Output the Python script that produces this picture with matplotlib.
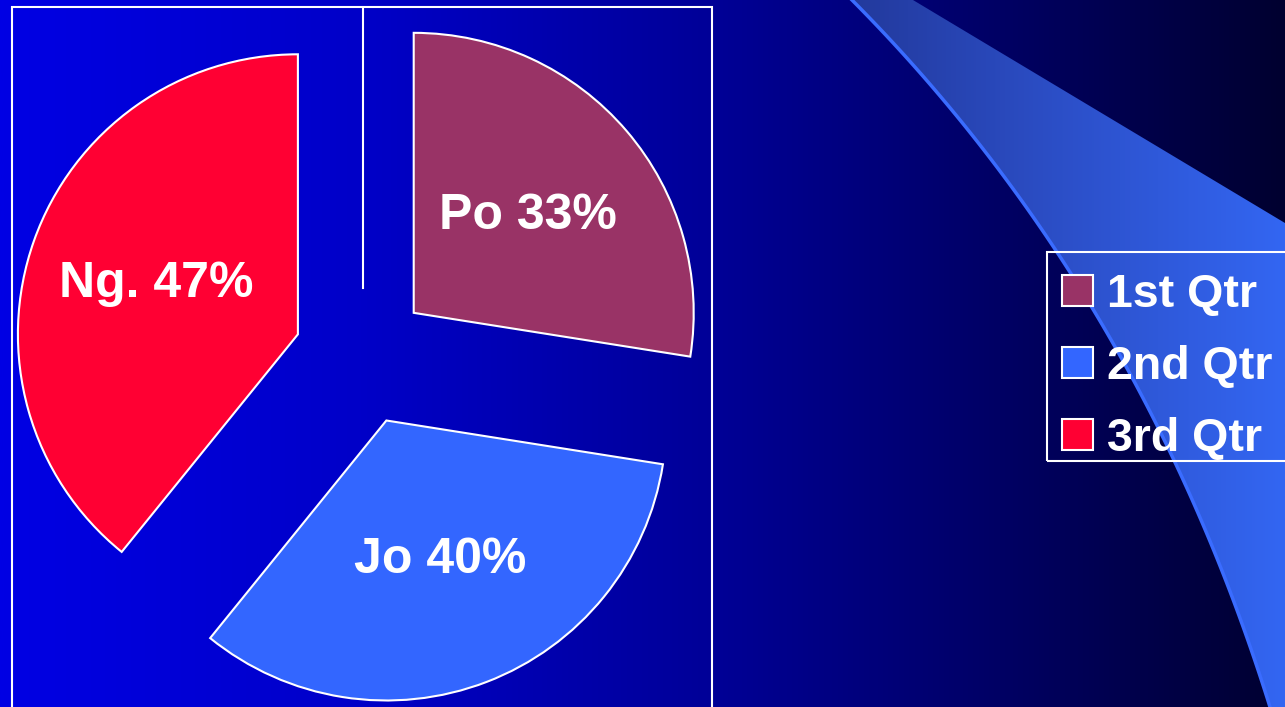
import numpy as np
import matplotlib
matplotlib.use("Agg")
import matplotlib.pyplot as plt
from matplotlib.colors import LinearSegmentedColormap
from matplotlib.patches import Polygon, Rectangle

# chart data
names = ["Po", "Jo", "Ng."]
values = [33, 40, 47]
legend_labels = ["1st Qtr", "2nd Qtr", "3rd Qtr"]
slice_colors = ["#993366", "#3366FF", "#FF0033"]

W, H = 1285, 707
fig = plt.figure(figsize=(W / 100, H / 100), dpi=100)
ax = fig.add_axes([0, 0, 1, 1])

# slide background: horizontal blue gradient
bg_cmap = LinearSegmentedColormap.from_list(
    "bg", [(0, "#0000e4"), (0.28, "#0000c8"), (0.55, "#000098"),
           (0.78, "#000064"), (1, "#000030")])
grad = np.linspace(0, 1, 512).reshape(1, -1)
ax.imshow(grad, cmap=bg_cmap, extent=(0, W, 0, H), aspect="auto", zorder=0)

# decorative swoosh on the right
u = np.linspace(0, 1, 100)[:, None]
p0, p1, p2 = np.array([852, 0]), np.array([1140, 290]), np.array([1270, 707])
curve = (1 - u) ** 2 * p0 + 2 * (1 - u) * u * p1 + u ** 2 * p2
outline = np.vstack([curve, [[1300, 707], [1300, 232], [913, 0]]]).astype(float)
outline[:, 1] = H - outline[:, 1]
swoosh = Polygon(outline, closed=True, facecolor="none", edgecolor="none")
ax.add_patch(swoosh)
sw_cmap = LinearSegmentedColormap.from_list("sw", ["#22389a", "#2c4fc8", "#3366f2"])
img = ax.imshow(grad, cmap=sw_cmap, extent=(840, W, 0, H), aspect="auto", zorder=1)
img.set_clip_path(swoosh)
ax.plot(curve[:, 0], H - curve[:, 1], color="#3a6cff", lw=2.5, zorder=1.5)

# plot area frame and the stray line
ax.add_patch(Rectangle((12, -10), 700, H - 7 + 10, fill=False,
                       edgecolor="white", lw=1.5, zorder=2))
ax.plot([363, 363], [H - 8, H - 288], color="white", lw=1.5, zorder=2)

labels = [f"{n} {v}%" for n, v in zip(names, values)]
wedges, texts = ax.pie(
    values, labels=labels, colors=slice_colors, startangle=90,
    counterclock=False, center=(362, H - 357), radius=280,
    explode=[68] * len(values), labeldistance=0.535,
    wedgeprops=dict(edgecolor="white", linewidth=1.5),
    textprops=dict(color="white", fontsize=36, fontweight="bold",
                   family="Liberation Sans"))
for w in wedges:
    w.set_zorder(3)
for t in texts:
    t.set_ha("center")
    t.set_zorder(4)

ax.set_xlim(0, W)
ax.set_ylim(0, H)
ax.axis("off")

# legend box (runs off the right edge of the slide)
ax.add_patch(Rectangle((1047, H - 461), 260, 209, fill=False,
                       edgecolor="white", lw=1.5, zorder=5))
leg = ax.legend(wedges, legend_labels, loc="upper left",
                bbox_to_anchor=(1062 / W, 1 - 273 / H),
                bbox_transform=fig.transFigure, borderaxespad=0,
                prop=dict(family="Liberation Sans", weight="bold", size=33.5),
                labelcolor="white", handlelength=0.667, handleheight=0.667,
                handletextpad=0.3, labelspacing=0.6, borderpad=0,
                frameon=False)

fig.savefig("out.png", dpi=100)
